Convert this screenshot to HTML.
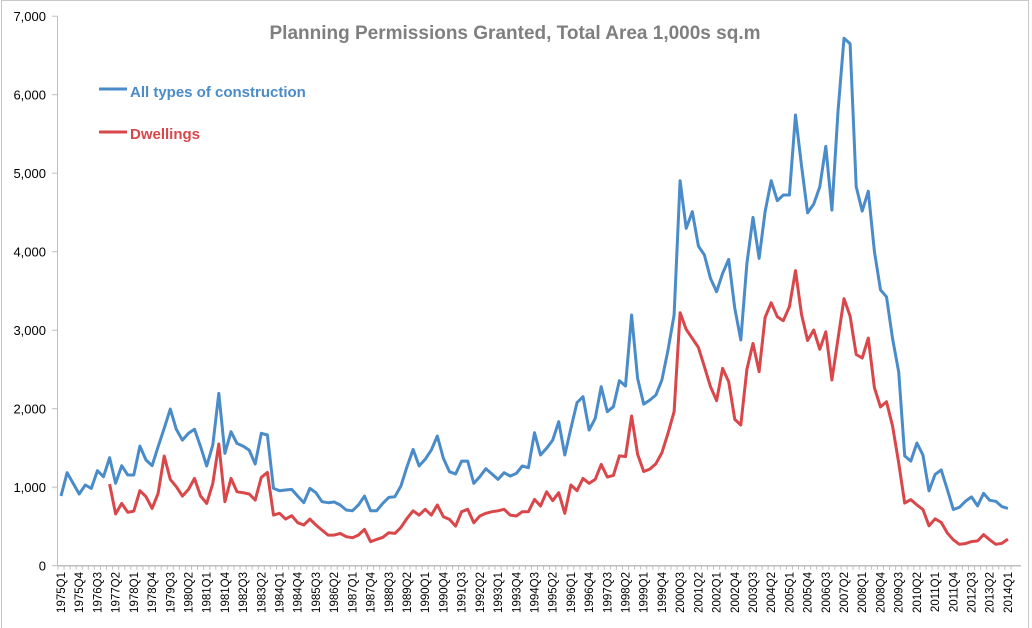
<!DOCTYPE html>
<html><head><meta charset="utf-8">
<style>
html,body{margin:0;padding:0;background:#fff;}
svg{display:block;font-family:"Liberation Sans",Arial,sans-serif;}
</style></head>
<body>
<svg id="chart" width="1032" height="628" viewBox="0 0 1032 628" xmlns="http://www.w3.org/2000/svg">
<rect x="1.5" y="0.5" width="1027" height="640" fill="#fff" stroke="#c8c8c8"/>
<text x="515" y="39" text-anchor="middle" font-size="19" font-weight="bold" fill="#7f7f7f">Planning Permissions Granted, Total Area 1,000s sq.m</text>
<g>
<line x1="99" y1="89" x2="127" y2="89" stroke="#4a8bc9" stroke-width="3"/>
<text x="130" y="97" font-size="15" font-weight="bold" fill="#4a8bc9">All types of construction</text>
<line x1="99" y1="132" x2="127" y2="132" stroke="#d9474a" stroke-width="3"/>
<text x="130" y="139" font-size="15" font-weight="bold" fill="#d9474a">Dwellings</text>
</g>
<g id="axes"></g>
<g id="series"></g>
</svg>
<script>
const blueValues = [888,1185,1050,913,1028,985,1210,1134,1376,1050,1274,1155,1155,1524,1346,1274,1516,1750,1996,1737,1600,1686,1737,1516,1270,1537,2195,1431,1707,1558,1524,1473,1295,1686,1665,985,955,964,972,887,
802,985,930,815,802,811,773,709,700,773,887,700,700,794,870,879,1015,1261,1482,1270,1355,1473,1652,1367,1197,1168,1333,1333,1049,1134,1236,1168,1100,1185,1142,1176,1270,1248,1694,1410,1495,1600,1834,1410,1750,2076,2153,
1728,1877,2280,1962,2025,2357,2289,3193,2386,2059,2110,2174,2365,2747,3193,4904,4297,4510,4072,3958,3660,3490,3724,3902,3278,2875,3851,4437,3915,4510,4904,4650,4722,4722,
5742,5096,4494,4606,4828,5341,4530,5786,6720,6650,4828,4517,4771,4004,3514,3425,2891,2468,1399,1332,1563,1412,953,1163,1220,975,717,744,820,877,762,922,833,820,753,730];
const redValues = [null,null,null,null,null,null,null,null,
1040,658,794,680,696,955,879,730,921,1397,1100,1006,887,972,1112,887,794,1049,1550,815,1112,942,930,913,836,1125,1189,645,667,594,637,548,
518,594,518,454,390,390,412,369,357,390,463,306,335,361,420,412,488,603,700,645,718,645,773,624,590,505,688,718,548,633,667,688,700,718,645,633,688,688,845,760,942,828,930,667,1028,955,1112,
1050,1100,1290,1130,1150,1400,1390,1907,1420,1200,1230,1300,1440,1686,1962,3223,3010,2896,2781,2535,2280,2102,2514,2344,1864,1792,2501,2832,2471,3163,3350,3172,3121,3299,
3759,3203,2869,3002,2757,2980,2365,2891,3403,3180,2690,2646,2900,2267,2022,2089,1777,1310,797,842,775,717,508,597,552,419,330,272,281,307,316,396,330,272,285,339];
const yTicks = [0,1000,2000,3000,4000,5000,6000,7000];
const yTickLabels = ["0","1,000","2,000","3,000","4,000","5,000","6,000","7,000"];
const categories = [];
for (let y = 1975; y <= 2014; y++) for (let q = 1; q <= 4; q++) { if (categories.length < 157) categories.push(y + "Q" + q); }

const NS = "http://www.w3.org/2000/svg";
const X0 = 61, DX = 6.07, Y0 = 565.7, YS = 0.0785;
const xAt = i => X0 + DX * i;
const yAt = v => Y0 - v * YS;
const axes = document.getElementById("axes");
const series = document.getElementById("series");
function mk(tag, attrs, parent) {
  const e = document.createElementNS(NS, tag);
  for (const k in attrs) e.setAttribute(k, attrs[k]);
  parent.appendChild(e);
  return e;
}
// y axis
let yl = mk("line", {x1:57.5, y1:yAt(7000), x2:57.5, y2:Y0, stroke:"#bfbfbf", "stroke-width":1}, axes);


yTicks.forEach((v, k) => {
  const t = mk("line", {x1:52, y1:yAt(v), x2:57.5, y2:yAt(v), stroke:"#bfbfbf"}, axes);
  
  
  const tx = mk("text", {x:46, y:yAt(v)+5, "text-anchor":"end", "font-size":13, fill:"#000"}, axes);
  tx.textContent = yTickLabels[k];
  
  
});
// x axis
let xl = mk("line", {x1:57.5, y1:Y0, x2:1021, y2:Y0, stroke:"#bfbfbf", "stroke-width":1.5}, axes);


for (let i = 0; i <= categories.length; i++) {
  const x = xAt(i) - DX/2;
  const t = mk("line", {x1:x, y1:Y0, x2:x, y2:Y0+4, stroke:"#bfbfbf"}, axes);
  
  
}
categories.forEach((c, i) => {
  if (i % 3 !== 0) return;
  const x = xAt(i) + 4, y = 572;
  const tx = mk("text", {x:x, y:y, "text-anchor":"end", "font-size":11.5, fill:"#000", transform:"rotate(-90 " + x + " " + y + ")"}, axes);
  tx.textContent = c;
  
  
});
function path(vals) {
  let d = "", pen = false;
  vals.forEach((v, i) => {
    if (v === null) { pen = false; return; }
    d += (pen ? "L" : "M") + xAt(i).toFixed(1) + " " + yAt(v).toFixed(1);
    pen = true;
  });
  return d;
}
const pb = mk("path", {d:path(blueValues), fill:"none", stroke:"#4a8bc9", "stroke-width":3, "stroke-linejoin":"round"}, series);


const pr = mk("path", {d:path(redValues), fill:"none", stroke:"#d9474a", "stroke-width":3, "stroke-linejoin":"round"}, series);


</script>
</body></html>
